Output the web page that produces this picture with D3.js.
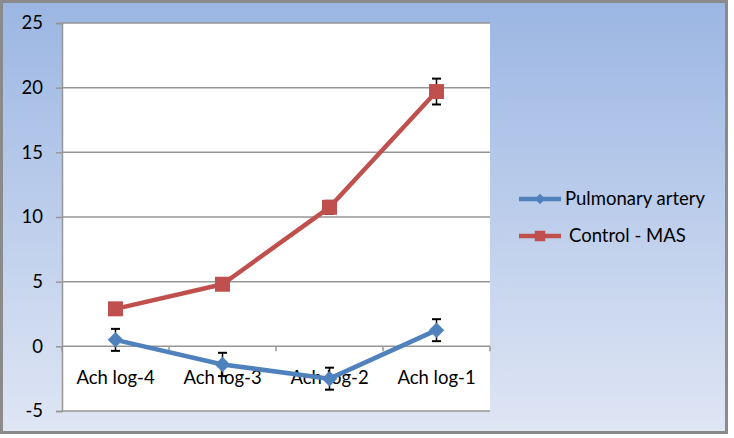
<!DOCTYPE html>
<html>
<head>
<meta charset="utf-8">
<script src="https://cdn.jsdelivr.net/npm/d3@7"></script>
<style>
html,body{margin:0;padding:0;background:#fff;}
svg{display:block;}
text{font-family:Lato,"Open Sans",sans-serif;fill:#000;}
</style>
</head>
<body>
<svg id="chart" width="734" height="438"></svg>
<script>
const categories = ["Ach log-4", "Ach log-3", "Ach log-2", "Ach log-1"];
const pulmonaryValues = [0.5, -1.4, -2.5, 1.25];
const pulmonaryErrors = [0.85, 0.9, 0.85, 0.85];
const controlValues = [2.9, 4.8, 10.75, 19.7];
const controlErrors = [0.4, 0.4, 0.5, 1.0];
const yTicks = [-5, 0, 5, 10, 15, 20, 25];
const seriesNames = ["Pulmonary artery", "Control - MAS"];

const svg = d3.select("#chart");
const plot = {left: 62, right: 490, top: 23, bottom: 411};
const FONT = "Lato,sans-serif";
const FS = "18.5px";

// background gradient
const defs = svg.append("defs");
const grad = defs.append("linearGradient").attr("id", "bg")
  .attr("x1", "0").attr("y1", "0").attr("x2", "0").attr("y2", "1");
grad.append("stop").attr("offset", "0").attr("stop-color", "#9bb6e3");
grad.append("stop").attr("offset", "1").attr("stop-color", "#dfe6f4");

svg.append("rect").attr("x", 1.5).attr("y", 1.5).attr("width", 725).attr("height", 431)
  .attr("fill", "url(#bg)").attr("stroke", "#8a8a8a").attr("stroke-width", 3);

const x = d3.scaleBand().domain(categories).range([plot.left, plot.right]).padding(0);
const y = d3.scaleLinear().domain([-5, 25]).range([plot.bottom, plot.top]);

svg.append("rect").attr("x", plot.left).attr("y", plot.top)
  .attr("width", plot.right - plot.left).attr("height", plot.bottom - plot.top)
  .attr("fill", "#fff");

// y axis with gridlines
const yAxis = d3.axisLeft(y).tickValues(yTicks).tickSize(6).tickPadding(13)
  .tickFormat(d => String(d));
const yg = svg.append("g").attr("transform", `translate(${plot.left},0)`).call(yAxis);
yg.select(".domain").attr("stroke", "#969696").attr("stroke-width", 1.5);
yg.selectAll(".tick line").attr("stroke", "#969696").attr("stroke-width", 1.5);
yg.selectAll(".tick text").style("font-size", FS).style("font-family", FONT);

svg.append("g").selectAll("line").data(yTicks).join("line")
  .attr("x1", plot.left).attr("x2", plot.right)
  .attr("y1", d => y(d)).attr("y2", d => y(d))
  .attr("stroke", "#969696").attr("stroke-width", 1.5);

// x axis at zero
const xAxis = d3.axisBottom(x).tickSize(0).tickFormat(d => d);
const xg = svg.append("g").attr("transform", `translate(0,${y(0)})`).call(xAxis);
xg.select(".domain").remove();
xg.selectAll(".tick text").attr("y", 38).attr("dy", 0)
  .style("font-size", FS).style("font-family", FONT);
const bounds = categories.map(c => x(c)).concat([x(categories[categories.length - 1]) + x.bandwidth()]);
svg.append("g").selectAll("line").data(bounds).join("line")
  .attr("x1", d => d).attr("x2", d => d)
  .attr("y1", y(0)).attr("y2", y(0) + 5)
  .attr("stroke", "#969696").attr("stroke-width", 1.5);

const cx = c => x(c) + x.bandwidth() / 2;
const blue = "#4f81bd", red = "#c0504d";

function markerPath(shape, size) {
  return shape === "diamond"
    ? d3.symbol().type(d3.symbolSquare).size(size)()
    : d3.symbol().type(d3.symbolSquare).size(size)();
}

function drawSeries(values, errors, color, shape) {
  const data = categories.map((c, i) => ({c, v: values[i], e: errors[i]}));
  svg.append("path").datum(data)
    .attr("d", d3.line().x(d => cx(d.c)).y(d => y(d.v)))
    .attr("fill", "none").attr("stroke", color).attr("stroke-width", 4.5)
    .attr("stroke-linejoin", "round");
  const eg = svg.append("g");
  data.forEach(d => {
    eg.append("line").attr("x1", cx(d.c)).attr("x2", cx(d.c))
      .attr("y1", y(d.v + d.e)).attr("y2", y(d.v - d.e))
      .attr("stroke", "#000").attr("stroke-width", 1.5);
    [d.v + d.e, d.v - d.e].forEach(t => {
      eg.append("line").attr("x1", cx(d.c) - 4.5).attr("x2", cx(d.c) + 4.5)
        .attr("y1", y(t)).attr("y2", y(t))
        .attr("stroke", "#000").attr("stroke-width", 2);
    });
  });
  const size = shape === "square" ? 225 : 120;
  svg.append("g").selectAll("path").data(data).join("path")
    .attr("d", markerPath(shape, size))
    .attr("fill", color)
    .attr("transform", d => shape === "square"
      ? `translate(${cx(d.c)},${y(d.v)})`
      : `translate(${cx(d.c)},${y(d.v)}) rotate(45)`);
}

drawSeries(controlValues, controlErrors, red, "square");
drawSeries(pulmonaryValues, pulmonaryErrors, blue, "diamond");

// legend
const legend = [
  {name: seriesNames[0], color: blue, shape: "diamond", y: 199, tx: 565},
  {name: seriesNames[1], color: red, shape: "square", y: 236, tx: 569}
];
const lg = svg.append("g");
legend.forEach(l => {
  lg.append("line").attr("x1", 519).attr("x2", 561).attr("y1", l.y).attr("y2", l.y)
    .attr("stroke", l.color).attr("stroke-width", 4.5);
  lg.append("path")
    .attr("d", markerPath(l.shape, l.shape === "square" ? 110 : 56))
    .attr("fill", l.color)
    .attr("transform", l.shape === "square" ? `translate(540,${l.y})` : `translate(540,${l.y}) rotate(45)`);
  lg.append("text").attr("x", l.tx).attr("y", l.y + 6)
    .style("font-size", FS).style("font-family", FONT).text(l.name);
});
</script>
</body>
</html>
